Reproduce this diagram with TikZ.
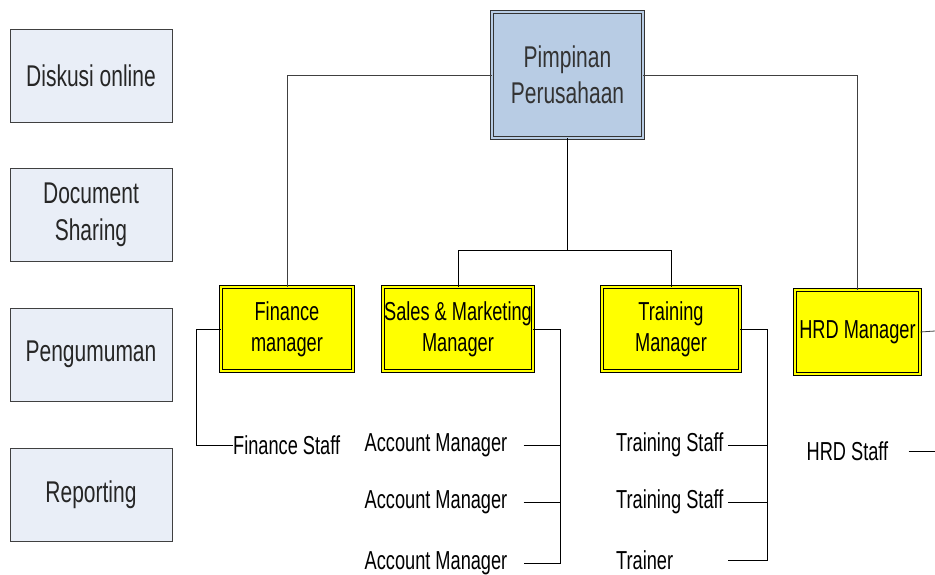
\documentclass[tikz,border=0pt]{standalone}
\usepackage{fontspec}
\setmainfont{Liberation Sans}[FakeStretch=0.70]
\usetikzlibrary{calc}
\definecolor{chiefblue}{HTML}{B8CCE4}
\definecolor{palebox}{HTML}{E9EEF7}
\definecolor{mgryellow}{HTML}{FFFF00}
\begin{document}
\begin{tikzpicture}[x=1pt,y=-1pt,
  conn/.style={draw=black,line width=0.8pt},
  toprule/.style={draw=black!75,line width=0.8pt},
  sidebox/.style={draw=black!75,line width=0.8pt,fill=palebox,
    minimum width=162,minimum height=93,align=center,inner sep=1pt,
    font=\fontsize{30}{37}\selectfont,text=black!85},
  chief/.style={draw=black!80,line width=0.8pt,double=chiefblue,
    double distance=2.5pt,fill=chiefblue,align=center,inner sep=1pt,
    font=\fontsize{30}{36}\selectfont,text=black!80},
  mgr/.style={draw=black,line width=0.8pt,double=mgryellow,
    double distance=2.2pt,fill=mgryellow,align=center,inner sep=1pt,
    font=\fontsize{26}{31}\selectfont},
  staff/.style={font=\fontsize{26}{30}\selectfont,inner ysep=2pt},
]
\useasboundingbox (0,0) rectangle (935,575);

% service boxes on the left
\node[sidebox] (disk) at (91,75.5)  {Diskusi online};
\node[sidebox] (docs) at (91,215)   {Document\\Sharing};
\node[sidebox] (peng) at (91,354.5) {Pengumuman};
\node[sidebox] (rept) at (91,494.5) {Reporting};

% head of the company
\node[chief,minimum width=151,minimum height=126] (pim) at (567.5,75) {Pimpinan\\Perusahaan};

% managers
\node[mgr,minimum width=132,minimum height=84] (fin) at (287,329) {Finance\\manager};
\node[mgr,minimum width=150,minimum height=84] (sal) at (458,329) {Sales \& Marketing\\Manager};
\node[mgr,minimum width=138,minimum height=84] (trn) at (671,329) {Training\\Manager};
\node[mgr,minimum width=125,minimum height=84] (hrd) at (857.5,332) {HRD Manager};

% staff
\node[staff,anchor=west,inner xsep=0pt] (fs) at (233,445) {Finance Staff};
\node[staff,inner xsep=16pt] (am1) at (436,445) {Account Manager};
\node[staff,inner xsep=16pt] (am2) at (436,502) {Account Manager};
\node[staff,inner xsep=16pt] (am3) at (436,563) {Account Manager};
\node[staff,anchor=west,inner xsep=0pt] (ts1) at (616,445) {Training Staff};
\node[staff,anchor=west,inner xsep=0pt] (ts2) at (616,502) {Training Staff};
\node[staff,anchor=west,inner xsep=0pt] (tr)  at (616,560) {Trainer};
\node[staff,inner xsep=20pt] (hs) at (847.5,451) {HRD Staff};

% bus points
\coordinate (split) at (567.5,250);
\coordinate (sbus) at (560,329);
\coordinate (tbus) at (767,329);
\coordinate (tstub) at (728,329);
\coordinate (hedge) at (935,331);

% head to managers
\draw[toprule] (pim.west) -| (fin.north);
\draw[toprule] (pim.east) -| (hrd.north);
\draw[conn] (pim.south) -- (split) -| (sal.north);
\draw[conn] (split) -| (trn.north);

% finance
\draw[conn] (fin.west) -- ++(-24,0) |- (fs.west);

% sales and marketing
\draw[conn] (sal.east) -- (sbus) |- (am3.east);
\draw[conn] (am1.east) -- (am1.east -| sbus);
\draw[conn] (am2.east) -- (am2.east -| sbus);

% training
\draw[conn] (trn.east) -- (tbus) |- (tr.east -| tstub);
\draw[conn] (ts1.east -| tstub) -- (ts1.east -| tbus);
\draw[conn] (ts2.east -| tstub) -- (ts2.east -| tbus);

% hrd
\draw[toprule] (hrd.east) -- (hedge);
\draw[conn] (hs.east) -- (hs.east -| hedge);
\end{tikzpicture}
\end{document}
